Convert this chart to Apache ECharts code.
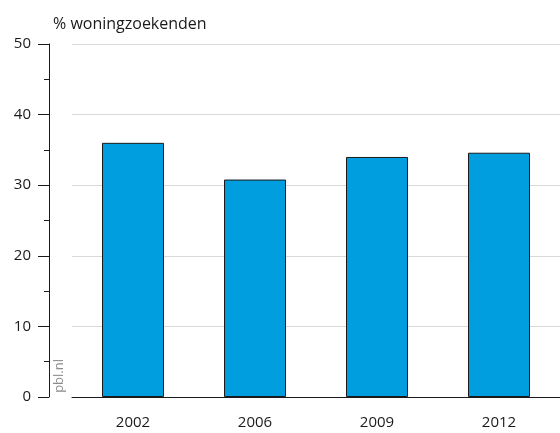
<!DOCTYPE html>
<html>
<head>
<meta charset="utf-8">
<script src="https://cdn.jsdelivr.net/npm/echarts@6/dist/echarts.min.js"></script>
<style>
  html, body { margin: 0; padding: 0; background: #fff; }
  #chart { width: 560px; height: 433px; }
</style>
</head>
<body>
<div id="chart"></div>
<script>
// Share of house seekers per survey year
const years = ['2002', '2006', '2009', '2012'];
const shares = [36.0, 30.8, 34.0, 34.6];
const yTicks = [0, 10, 20, 30, 40, 50];

const FONT = 'Open Sans';
const chart = echarts.init(document.getElementById('chart'), null, { renderer: 'canvas' });

chart.setOption({
  animation: false,
  backgroundColor: '#ffffff',
  title: {
    text: '% woningzoekenden',
    left: 48,
    top: 11,
    textStyle: { fontFamily: FONT, fontSize: 16, fontWeight: 'normal', color: '#1a1a1a' }
  },
  graphic: [{
    type: 'text',
    left: 53,
    top: 359,
    rotation: Math.PI / 2,
    style: { text: 'pbl.nl', fontFamily: FONT, fontSize: 13, fill: '#8c8c8c' }
  }],
  grid: { left: 72, top: 44, width: 492, height: 353, containLabel: false },
  xAxis: {
    type: 'category',
    data: years,
    axisLine: { show: true, lineStyle: { color: '#1a1a1a', width: 1 } },
    axisTick: { show: false },
    axisLabel: { fontFamily: FONT, fontSize: 15, color: '#1a1a1a', margin: 18 }
  },
  yAxis: [{
    type: 'value',
    min: yTicks[0],
    max: yTicks[yTicks.length - 1],
    interval: 10,
    axisLine: { show: false },
    axisTick: { show: false },
    axisLabel: { show: false },
    splitLine: { show: true, lineStyle: { color: '#d9d9d9', width: 1 } }
  }, {
    // separate left axis line with ticks, offset from the plot area
    type: 'value',
    position: 'left',
    offset: 23,
    min: yTicks[0],
    max: yTicks[yTicks.length - 1],
    interval: 10,
    axisLine: { show: true, lineStyle: { color: '#1a1a1a', width: 1 } },
    axisTick: { show: true, length: 11, lineStyle: { color: '#1a1a1a' } },
    minorTick: { show: true, splitNumber: 2, length: 5, lineStyle: { color: '#1a1a1a' } },
    splitLine: { show: false },
    axisLabel: { fontFamily: FONT, fontSize: 15, color: '#1a1a1a', margin: 18 }
  }],
  series: [{
    type: 'bar',
    data: shares,
    barWidth: 62,
    itemStyle: { color: '#009ddf', borderColor: '#1a1a1a', borderWidth: 1 }
  }]
});
</script>
</body>
</html>
